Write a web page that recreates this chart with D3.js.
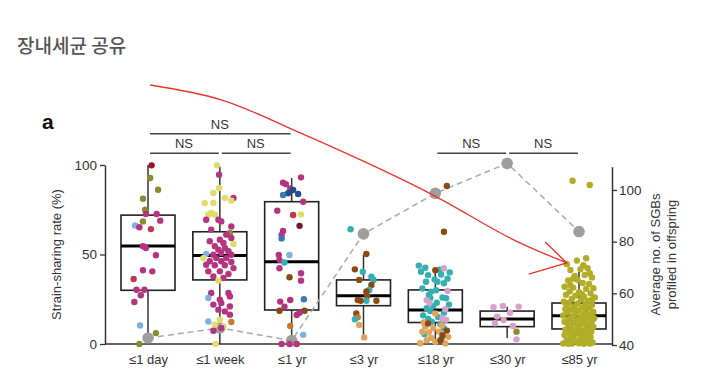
<!DOCTYPE html>
<html>
<head>
<meta charset="utf-8">
<script src="https://cdn.jsdelivr.net/npm/d3@7"></script>
<style>
  body { margin: 0; background: #fff; }
  svg text { font-family: "Liberation Sans", Arial, Helvetica, sans-serif; fill: #333; }
</style>
</head>
<body>
<svg id="chart" width="724" height="387"></svg>
<script>
// ---- data ----
const categories = ["≤1 day", "≤1 week", "≤1 yr", "≤3 yr", "≤18 yr", "≤30 yr", "≤85 yr"];
const boxLow    = [0,    0,    0,    3.9,  0,    3.4,  0];
const boxQ1     = [30,   35.8, 19,   21.4, 12,   9.7,  8.4];
const boxMedian = [54.7, 49.5, 46,   27,   19,   14,   15.8];
const boxQ3     = [72,   62.7, 79.5, 35.8, 30.2, 18.4, 22.9];
const boxHigh   = [100,  99,   92.7, 49.7, 42.5, 20.8, 42.5];
const avgSGBs   = [42.7, 46.6, 41.7, 83, 98.7, 110.3, 83.9];
const leftTicks = [0, 50, 100];
const rightTicks = [40, 60, 80, 100];
// [from, to, level]
const brackets = [[0, 2, 1], [0, 1, 0], [1, 2, 0], [4, 5, 0], [5, 6, 0]];
// hand-drawn red annotation, in [category index, left-axis value]
const arrowLine = [[0.03, 144.7], [1.03, 136.3], [2.12, 117.9], [3.97, 83.2], [5.14, 57.2], [5.83, 45.3]];
const arrowHead = [[5.53, 57], [5.83, 45.3], [5.3, 39.1]];

const colors = {
  mg: "#b5347f", yl: "#e3da6c", ol: "#8c8a2e", dr: "#9b1524", lb: "#7fb0e2",
  bl: "#3b78b8", db: "#1f4f8f", rm: "#c2364e", mr: "#7a1040", tl: "#35b0b2",
  br: "#8b4a14", tn: "#e0a55a", or: "#c87a30", pk: "#d6a2cc", oy: "#b2ac26"
};

// jittered points per group: [offset in steps, value, colour]
const day1 = [[0.05,99.8,"dr"],[0.03,92.7,"ol"],[0.14,86.2,"ol"],[-0.07,81.2,"ol"],[-0.04,75,"ol"],
  [-0.03,72.6,"mg"],[0.12,72.6,"mg"],[0.17,68.9,"mg"],[-0.07,68.5,"ol"],[-0.18,66.2,"lb"],
  [-0.12,65.2,"mg"],[0.04,64.2,"rm"],[-0.07,54.6,"mg"],[-0.03,53.6,"mg"],[0.11,49.6,"mg"],
  [-0.07,41.2,"mg"],[0.06,40.6,"mg"],[-0.2,36.3,"rm"],[-0.16,30.3,"mg"],[-0.05,30.3,"mg"],
  [-0.1,27.2,"mg"],[-0.19,23.5,"mg"],[-0.11,10.4,"lb"],[0.11,6.1,"ol"],[-0.12,0,"ol"]];
const week1 = [[-0.04,99.8,"yl"],[-0.01,94.6,"mg"],[-0.01,87.2,"yl"],[-0.09,84.4,"yl"],[0.07,81.6,"yl"],
  [0.19,81.6,"mg"],[0.16,80.1,"yl"],[-0.21,78.8,"yl"],[-0.09,78.8,"yl"],[-0.12,73.2,"yl"],
  [-0.07,72.2,"yl"],[-0.16,72.2,"yl"],[-0.19,69.4,"mg"],[-0.02,69.4,"mg"],[0.02,68.5,"mg"],
  [0.16,65.7,"mg"],[0.14,62,"ol"],[-0.12,63.9,"mg"],[0.09,61.1,"mg"],[0.16,59.2,"mg"],
  [0,58.3,"mg"],[-0.14,57.4,"mg"],[0.05,56.4,"mg"],[0.19,55.9,"yl"],[-0.07,54.6,"mg"],
  [0.07,53.6,"mg"],[-0.02,52.7,"mg"],[0.12,51.8,"mg"],[-0.19,50.3,"lb"],[-0.09,49.9,"mg"],
  [0.02,50.8,"mg"],[0.16,49.9,"mg"],[-0.23,48,"yl"],[-0.05,48,"mg"],[0.09,48,"mg"],
  [-0.14,46.2,"mg"],[0.02,46.2,"mg"],[0.16,45.8,"mg"],[-0.19,44.3,"mg"],[-0.07,44,"mg"],
  [0.07,44,"mg"],[0.19,42.4,"mg"],[-0.16,40.6,"mg"],[0,40.6,"mg"],[0.12,39.1,"mg"],
  [-0.09,37.8,"mg"],[0.05,36.9,"mg"],[-0.02,35.4,"yl"],[-0.12,28.5,"mg"],[0.12,28.5,"mg"],
  [0.14,26.6,"mg"],[-0.16,25.7,"lb"],[0,24.8,"mg"],[0.02,22.9,"mg"],[-0.09,22,"mg"],
  [0.14,21,"mg"],[-0.02,19.2,"mg"],[0.07,18.2,"mg"],[0.14,16.4,"mg"],[0,13.6,"yl"],
  [-0.16,12.6,"lb"],[0.16,12.3,"or"],[-0.07,10.8,"yl"],[0.05,9.9,"yl"],[-0.09,7.4,"mg"],
  [0.02,8.9,"mg"],[-0.06,0,"yl"]];
const year1 = [[0.13,93.1,"mg"],[-0.12,90.1,"mg"],[-0.08,89.3,"mg"],[-0.02,86.9,"mg"],[0.02,86,"db"],
  [-0.05,84.2,"db"],[0.09,83.8,"db"],[-0.12,83.2,"bl"],[0.16,79.5,"mg"],[-0.2,74.5,"mg"],
  [0.02,72.1,"rm"],[0.13,72.4,"yl"],[0.11,66,"mr"],[-0.12,63.1,"mg"],[-0.14,60.9,"mg"],
  [-0.14,59,"bl"],[-0.18,49.7,"mg"],[-0.03,49.7,"lb"],[-0.17,47,"mg"],[-0.1,45.5,"tl"],
  [-0.17,42.3,"mg"],[-0.03,37.3,"br"],[0.13,39.5,"mg"],[0.13,35.4,"mg"],[-0.02,24.6,"mg"],
  [0.17,25,"bl"],[-0.16,23.7,"mg"],[-0.1,20.9,"mg"],[-0.17,18.6,"br"],[0.18,18.6,"br"],
  [0.11,17.5,"mg"],[0.07,16.2,"mg"],[-0.02,10.1,"or"],[0.16,5.1,"lb"],[-0.14,0,"mg"],
  [-0.03,0,"mg"],[0.07,0,"mg"]];
const year3 = [[-0.18,64.1,"tl"],[0.04,50.3,"br"],[-0.12,41.7,"br"],[-0.01,40.4,"tl"],[0.11,37.6,"tl"],
  [0.14,35.8,"tl"],[-0.06,35.8,"br"],[0.11,33,"br"],[0.08,30.2,"tl"],[0.04,29.3,"br"],
  [0.05,26.8,"br"],[-0.08,24.6,"br"],[0.04,24.2,"tl"],[0.18,24.2,"br"],[-0.04,24.2,"br"],
  [-0.1,17.1,"br"],[-0.08,14.9,"or"],[-0.12,13.8,"tl"],[-0.06,10.6,"tn"],[0.01,3.7,"tn"]];
const year18 = [[0.16,88.3,"br"],[0.12,62.7,"br"],
  [-0.23,43.8,"tl"],[-0.14,42.6,"tl"],[-0.2,40.4,"tl"],[-0.1,38.5,"tl"],[0.08,38.8,"tl"],
  [-0.13,34.8,"tl"],[0.03,34.8,"tl"],[0.12,33.9,"tl"],[-0.06,29.2,"tl"],[0.01,30,"tl"],
  [-0.09,27.4,"tl"],[0.1,26,"tl"],[0.15,25.6,"tl"],[-0.07,25.7,"tl"],[0.02,23.1,"tl"],
  [-0.03,21.2,"tl"],[-0.12,20,"tl"],[-0.07,18.4,"tl"],[0.12,17.5,"tl"],[-0.1,14,"tl"],
  [-0.05,12.5,"tl"],[0.07,11,"tl"],[0.12,8.8,"tl"],[0.2,40,"tl"],[0.17,36.5,"tl"],
  [-0.18,31,"tl"],[0.06,41.5,"tl"],[-0.01,36,"tl"],[0.19,22,"tl"],[-0.17,16,"tl"],
  [0.04,15,"tl"],[-0.15,5.5,"tl"],[0.09,3,"tl"],[0,41.2,"br"],
  [0.12,42.3,"pk"],[0.17,29.6,"pk"],[-0.12,24.4,"pk"],[0.1,14.4,"pk"],[0.15,13.5,"pk"],
  [-0.08,23,"pk"],[0.14,19.5,"pk"],
  [0,17,"tn"],[-0.14,9.7,"tn"],[-0.03,8.8,"tn"],[-0.18,6.9,"tn"],[-0.09,6.5,"tn"],
  [0.05,6.9,"tn"],[-0.12,2.1,"tn"],[-0.06,3.4,"tn"],[-0.21,0.4,"tn"],[0,1.2,"tn"],
  [0.14,0.3,"tn"],[0.18,4,"tn"],[-0.16,12,"tn"],[0.09,10.5,"tn"],
  [0.1,4.9,"br"],[0.07,2.1,"br"],[-0.1,11.5,"br"],[0.16,7.5,"br"]];
const year30 = [[-0.19,20.5,"pk"],[-0.06,21.2,"pk"],[0.16,20.9,"pk"],[0.04,17.5,"pk"],[-0.14,15.3,"pk"],
  [-0.05,13.4,"pk"],[-0.17,11.6,"pk"],[0.08,10.1,"pk"],[0.13,6.9,"ol"],[0.13,2.6,"pk"]];
const year85 = [[-0.09,91.2],[0.15,88.8],[-0.17,44.6],[-0.03,46.6],[0.1,47.9],[-0.12,41.4],[0.02,41.8],
  [0.12,42.3],[-0.06,38],[0.08,38.6],[0.18,37.2],[-0.15,35.5],[-0.02,35.9],[0.05,34.1],[0.14,33.6],
  [-0.2,32],[-0.08,31.5],[0.1,30.8],[0.2,31.2],[-0.13,29.4],[0,29],[0.16,28.3],[-0.18,27.5],
  [-0.05,27],[0.07,26.4],[0.22,26],[-0.1,25.2],[0.03,24.8],[0.12,24.1],[-0.21,23.6],[-0.14,23],
  [-0.02,22.6],[0.09,22.2],[0.18,21.8],[-0.07,21],[0.05,20.6],[0.14,20.1],[-0.19,19.6],[-0.11,19.2],
  [0,18.9],[0.1,18.4],[0.2,18],[-0.16,17.5],[-0.04,17.1],[0.07,16.8],[0.16,16.3],[-0.22,15.9],
  [-0.09,15.5],[0.02,15.2],[0.12,14.8],[0.21,14.4],[-0.14,14],[-0.03,13.6],[0.08,13.3],[0.18,12.8],
  [-0.2,12.4],[-0.08,12],[0.04,11.7],[0.14,11.2],[-0.15,10.8],[-0.02,10.4],[0.1,10],[0.2,9.6],
  [-0.11,9.2],[0.01,8.8],[0.13,8.4],[-0.19,8],[-0.06,7.6],[0.07,7.2],[0.17,6.8],[-0.13,6.3],
  [0,5.9],[0.11,5.5],[-0.2,5],[-0.07,4.6],[0.05,4.2],[0.16,3.8],[-0.12,3.3],[0.02,2.9],[0.12,2.4],
  [-0.17,2],[-0.04,1.6],[0.09,1.2],[0.19,0.8],[-0.22,0.3],[-0.1,0.2],[0,0.4],[0.07,0.1],[0.15,0.3],
  [-0.15,0.1],[-0.05,18.5],[0.04,27.8],[-0.12,33],[0.15,39.5],[0.06,44],[-0.08,36.5],[0.1,16],
  [-0.17,21.5],[0.18,24.8]].map(d => [d[0], d[1], "oy"]);
const groups = [day1, week1, year1, year3, year18, year30, year85];

// ---- layout ----
const plot = { left: 105, right: 612, top: 165, bottom: 344, padL: 43, padR: 33 };
const svg = d3.select("#chart");

const x = d3.scalePoint().domain(categories)
  .range([plot.left + plot.padL, plot.right - plot.padR]);
const xi = d3.scaleLinear().domain([0, categories.length - 1]).range(x.range());
const y = d3.scaleLinear().domain([0, 100]).range([plot.bottom, plot.top]);
const y2 = d3.scaleLinear().domain([40, 109]).range([plot.bottom + 1, 166.7]);
const boxW = 54;

// title
svg.append("text").attr("x", 17).attr("y", 53)
  .style("font-family", "'Noto Sans CJK KR', sans-serif")
  .style("font-size", "19px").style("font-weight", 500).style("fill", "#555")
  .text("장내세균 공유");

svg.append("text").attr("x", 42).attr("y", 129)
  .style("font-size", "21px").style("font-weight", "bold").style("fill", "#111")
  .text("a");

// axes
const gL = svg.append("g").attr("transform", `translate(${plot.left},0)`)
  .call(d3.axisLeft(y).tickValues(leftTicks).tickSize(5).tickPadding(3).tickSizeOuter(0));
const gR = svg.append("g").attr("transform", `translate(${plot.right},0)`)
  .call(d3.axisRight(y2).tickValues(rightTicks).tickSize(5).tickPadding(2).tickSizeOuter(0));
[gL, gR].forEach(g => {
  g.select(".domain").attr("stroke", "#333").attr("stroke-width", 1.5);
  g.selectAll(".tick line").attr("stroke", "#333").attr("stroke-width", 1.3);
  g.selectAll(".tick text").style("font-size", "13.5px").style("fill", "#333");
});

const gX = svg.append("g").attr("transform", `translate(0,${plot.bottom})`)
  .call(d3.axisBottom(x).tickSize(0).tickPadding(11));
gX.select(".domain").attr("d", `M${plot.left},0H${plot.right}`)
  .attr("stroke", "#333").attr("stroke-width", 1.5);
gX.selectAll(".tick text").style("font-size", "13px").style("fill", "#333");

svg.append("text")
  .attr("transform", `translate(61,${(plot.top + plot.bottom) / 2}) rotate(-90)`)
  .attr("text-anchor", "middle").style("font-size", "13px")
  .text("Strain-sharing rate (%)");
svg.append("text")
  .attr("transform", `translate(660,${(plot.top + plot.bottom) / 2}) rotate(-90)`)
  .attr("text-anchor", "middle").style("font-size", "13px")
  .text("Average no. of SGBs");
svg.append("text")
  .attr("transform", `translate(676,${(plot.top + plot.bottom) / 2}) rotate(-90)`)
  .attr("text-anchor", "middle").style("font-size", "13px")
  .text("profiled in offspring");

// boxes
const boxes = svg.append("g").selectAll("g").data(categories).join("g");
boxes.append("line")
  .attr("x1", d => x(d)).attr("x2", d => x(d))
  .attr("y1", (d, i) => y(boxHigh[i])).attr("y2", (d, i) => y(boxLow[i]))
  .attr("stroke", "#333").attr("stroke-width", 1.5);
boxes.append("rect")
  .attr("x", d => x(d) - boxW / 2).attr("width", boxW)
  .attr("y", (d, i) => y(boxQ3[i])).attr("height", (d, i) => y(boxQ1[i]) - y(boxQ3[i]))
  .attr("fill", "#fff").attr("stroke", "#222").attr("stroke-width", 1.6);
boxes.append("line")
  .attr("x1", d => x(d) - boxW / 2).attr("x2", d => x(d) + boxW / 2)
  .attr("y1", (d, i) => y(boxMedian[i])).attr("y2", (d, i) => y(boxMedian[i]))
  .attr("stroke", "#000").attr("stroke-width", 3);

// average SGBs (right axis)
svg.append("path").datum(avgSGBs)
  .attr("d", d3.line().x((d, i) => xi(i)).y(d => y2(d)))
  .attr("fill", "none").attr("stroke", "#aaa").attr("stroke-width", 1.5)
  .attr("stroke-dasharray", "6,4");
svg.append("g").selectAll("circle").data(avgSGBs).join("circle")
  .attr("cx", (d, i) => xi(i)).attr("cy", d => y2(d)).attr("r", 5.8)
  .attr("fill", "#9e9e9e");

// jittered points
const step = x.step();
svg.append("g").selectAll("g").data(groups).join("g")
  .selectAll("circle").data((d, i) => d.map(p => ({ p, i })))
  .join("circle")
  .attr("cx", d => xi(d.i) + d.p[0] * step)
  .attr("cy", d => y(d.p[1]))
  .attr("r", 3.2)
  .attr("fill", d => colors[d.p[2]]);

// NS brackets
const levelY = [106.5, 117.5];
const br = svg.append("g").selectAll("g").data(brackets).join("g");
br.append("line")
  .attr("x1", d => xi(d[0]) + 2).attr("x2", d => xi(d[1]) - 1)
  .attr("y1", d => y(levelY[d[2]])).attr("y2", d => y(levelY[d[2]]))
  .attr("stroke", "#444").attr("stroke-width", 1.5);
br.append("text")
  .attr("x", d => (xi(d[0]) + xi(d[1])) / 2)
  .attr("y", d => y(levelY[d[2]]) - 5)
  .attr("text-anchor", "middle").style("font-size", "13px")
  .text("NS");

// red annotation arrow
svg.append("path").datum(arrowLine)
  .attr("d", d3.line().x(d => xi(d[0])).y(d => y(d[1])).curve(d3.curveMonotoneX))
  .attr("fill", "none").attr("stroke", "#e8342c").attr("stroke-width", 1.3);
svg.append("path").datum(arrowHead)
  .attr("d", d3.line().x(d => xi(d[0])).y(d => y(d[1])))
  .attr("fill", "none").attr("stroke", "#e8342c").attr("stroke-width", 1.3);
</script>
</body>
</html>
